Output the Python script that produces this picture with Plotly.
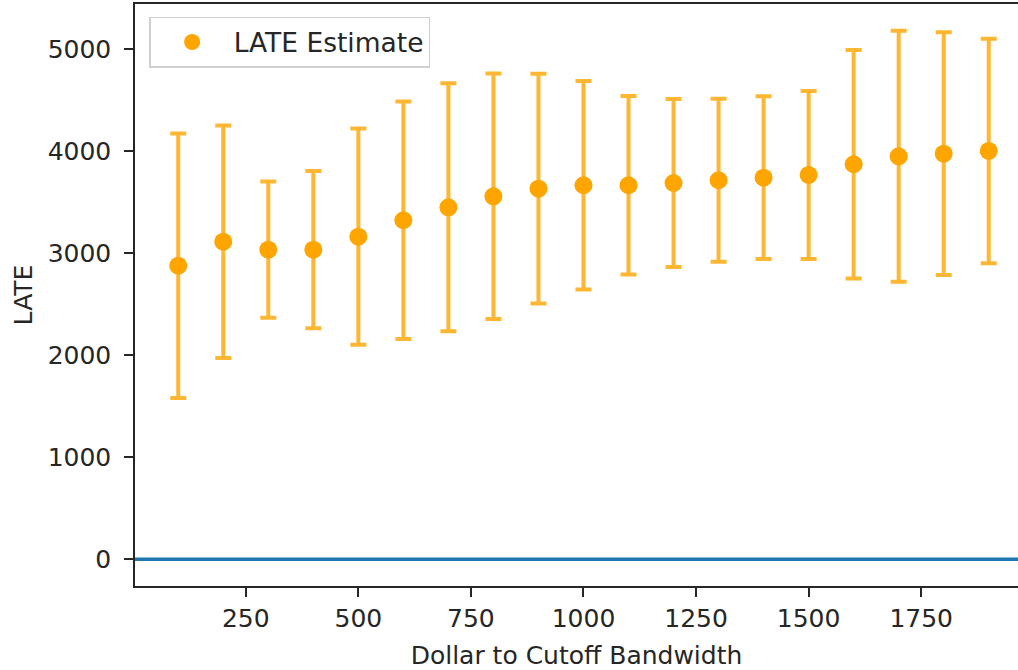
import plotly.graph_objects as go

bandwidth = [100, 200, 300, 400, 500, 600, 700, 800, 900, 1000,
             1100, 1200, 1300, 1400, 1500, 1600, 1700, 1800, 1900]
late_estimate = [2878, 3114, 3035, 3035, 3163, 3324, 3451, 3559, 3633, 3667,
                 3667, 3689, 3716, 3741, 3768, 3873, 3951, 3977, 4003]
late_error = [1296, 1140, 668, 771, 1060, 1164, 1216, 1204, 1126, 1022,
              876, 824, 798, 798, 824, 1121, 1230, 1191, 1100]
x_ticks = [250, 500, 750, 1000, 1250, 1500, 1750]
y_ticks = [0, 1000, 2000, 3000, 4000, 5000]

FONT = "DejaVu Sans"
FS = 25

fig = go.Figure()
fig.add_trace(go.Scatter(
    x=bandwidth, y=late_estimate, mode="markers", name="LATE Estimate",
    marker=dict(color="#FFA500", size=18),
    error_y=dict(type="data", array=late_error, visible=True,
                 color="rgba(255,165,0,0.8)", thickness=4, width=8),
))
fig.add_hline(y=0, line=dict(color="#1f77b4", width=3.5), layer="below")

fig.update_layout(
    width=1018, height=670,
    margin=dict(l=135, r=0, t=4, b=84, autoexpand=False),
    paper_bgcolor="white", plot_bgcolor="white",
    font=dict(family=FONT, size=FS, color="#262626"),
    showlegend=True,
    legend=dict(x=0.016, y=0.978, xanchor="left", yanchor="top",
                bgcolor="white", bordercolor="#d0d0d0", borderwidth=1.5,
                font=dict(size=26.5, color="#262626"), itemwidth=73),
    xaxis=dict(range=[4, 1965], tickvals=x_ticks, ticks="outside", ticklen=9,
               tickwidth=1.5, tickcolor="#262626", showline=True, linecolor="#262626",
               linewidth=1.5, mirror=True, showgrid=False, zeroline=False,
               automargin=False, tickfont=dict(size=FS),
               title=dict(text="Dollar to Cutoff Bandwidth", standoff=15,
                          font=dict(size=FS))),
    yaxis=dict(range=[-262, 5444], tickvals=y_ticks, ticks="outside", ticklen=9,
               tickwidth=1.5, tickcolor="#262626", showline=True, linecolor="#262626",
               linewidth=1.5, mirror=False, showgrid=False, zeroline=False,
               automargin=False, tickfont=dict(size=FS), ticklabelstandoff=8,
               title=dict(text="LATE", standoff=8, font=dict(size=FS))),
)

fig.write_html("out.html", config={"displayModeBar": False},
               post_script="document.body.style.margin='0';document.body.style.padding='0';")
